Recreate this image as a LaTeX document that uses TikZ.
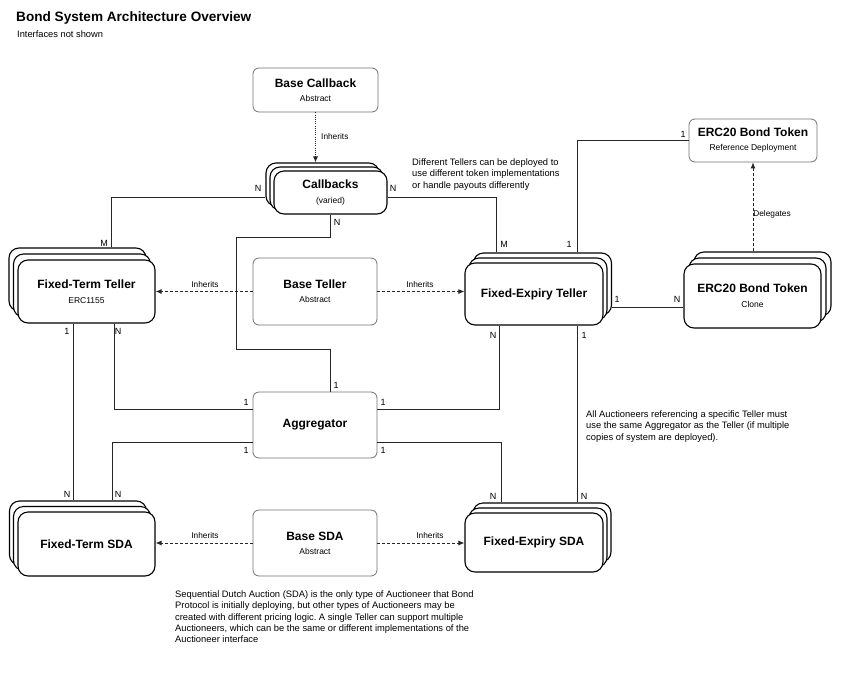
\documentclass[tikz,border=0pt]{standalone}
\usepackage{fontspec}
\setmainfont{Liberation Sans}
\usetikzlibrary{arrows.meta,calc}
\frenchspacing
\newcommand\boxhead[1]{{\fontsize{12}{15}\selectfont\bfseries #1}}
\tikzset{
  basebox/.style={draw=black!55, line width=0.8pt, rounded corners=6pt, fill=white, inner sep=0pt, align=center, font=\fontsize{8.5}{14}\selectfont, minimum width=124pt},
  stackbox/.style={draw=black, line width=1.1pt, rounded corners=10pt, fill=white, inner sep=0pt, align=center, font=\fontsize{8.5}{15}\selectfont},
  conn/.style={draw=black!85, line width=0.9pt},
  inh/.style={conn, dash pattern=on 3pt off 2pt, -{Latex[length=6pt,width=5pt]}},
  dotarrow/.style={conn, dash pattern=on 1pt off 1.2pt, -{Latex[length=6pt,width=5pt]}},
  lbl/.style={font=\fontsize{9}{11}\selectfont, inner sep=0pt},
  smalltxt/.style={font=\fontsize{8.3}{10}\selectfont, inner sep=0pt},
  para/.style={font=\fontsize{9.35}{11.3}\selectfont, align=left, inner sep=0pt, anchor=north west},
}
\begin{document}
\begin{tikzpicture}[x=1pt,y=-1pt]
\useasboundingbox (0,0) rectangle (862,683);

% titles
\node[anchor=north west, inner sep=0pt, font=\fontsize{13.6}{16}\selectfont\bfseries] (title) at (16,11) {Bond System Architecture Overview};
\node[anchor=north west, inner sep=0pt, font=\fontsize{9.3}{11}\selectfont] (subtitle) at (17,30.5) {Interfaces not shown};

% Base Callback
\node[basebox, minimum width=125pt, minimum height=44pt] (bcb) at (315.5,90) {\boxhead{Base Callback}\\Abstract};

% Callbacks stack
\node[stackbox, minimum width=113pt, minimum height=43pt] (cb3) at (322.5,184.5) {};
\node[stackbox, minimum width=113pt, minimum height=43pt] (cb2) at (326.5,188.5) {};
\node[stackbox, minimum width=113pt, minimum height=43pt] (cb) at (330.5,192.5) {\boxhead{Callbacks}\\(varied)};

% Fixed-Term Teller stack
\node[stackbox, minimum width=137pt, minimum height=63pt] (ftt3) at (77.5,279.5) {};
\node[stackbox, minimum width=137pt, minimum height=63pt] (ftt2) at (82,285.5) {};
\node[stackbox, minimum width=137pt, minimum height=63pt] (ftt) at (86.5,291.5) {\boxhead{Fixed-Term Teller}\\ERC1155};

% Base Teller
\node[basebox, minimum height=67pt] (bt) at (315,291.5) {\boxhead{Base Teller}\\Abstract};

% Aggregator
\node[basebox, minimum height=66pt] (agg) at (315,425) {\boxhead{Aggregator}};

% Fixed-Expiry Teller stack
\node[stackbox, minimum width=138pt, minimum height=62pt] (fet3) at (542.5,284) {};
\node[stackbox, minimum width=138pt, minimum height=62pt] (fet2) at (538,289) {};
\node[stackbox, minimum width=138pt, minimum height=62pt] (fet) at (534,294) {\boxhead{Fixed-Expiry Teller}};

% ERC20 reference
\node[basebox, minimum width=128pt, minimum height=43pt] (erc) at (753,140.5) {\boxhead{ERC20 Bond Token}\\Reference Deployment};

% ERC20 clone stack
\node[stackbox, minimum width=137pt, minimum height=64pt] (clone3) at (762.5,284) {};
\node[stackbox, minimum width=137pt, minimum height=64pt] (clone2) at (757.5,290) {};
\node[stackbox, minimum width=137pt, minimum height=64pt] (clone) at (752.5,296) {\boxhead{ERC20 Bond Token}\\Clone};

% Fixed-Term SDA stack
\node[stackbox, minimum width=137pt, minimum height=64pt] (fts3) at (78,533) {};
\node[stackbox, minimum width=137pt, minimum height=64pt] (fts2) at (82,538.5) {};
\node[stackbox, minimum width=137pt, minimum height=64pt] (fts) at (86.5,544) {\boxhead{Fixed-Term SDA}};

% Base SDA
\node[basebox, minimum height=66pt] (bsda) at (315,543) {\boxhead{Base SDA}\\Abstract};

% Fixed-Expiry SDA stack
\node[stackbox, minimum width=138pt, minimum height=59pt] (fes3) at (542,532.5) {};
\node[stackbox, minimum width=138pt, minimum height=59pt] (fes2) at (538,537.5) {};
\node[stackbox, minimum width=138pt, minimum height=59pt] (fes) at (534,542.5) {\boxhead{Fixed-Expiry SDA}};

% inheritance / delegation
\draw[dotarrow] (bcb.south) -- (bcb.south |- cb3.north);
\node[smalltxt, anchor=west] (inh1) at (321,137) {Inherits};
\draw[inh] (bt.west) -- (bt.west -| ftt.east);
\node[smalltxt] (inh2) at (205,285) {Inherits};
\draw[inh] (bt.east) -- (bt.east -| fet.west);
\node[smalltxt] (inh3) at (420,285) {Inherits};
\draw[inh] (bsda.west) -- (bsda.west -| fts.east);
\node[smalltxt] (inh4) at (205,536) {Inherits};
\draw[inh] (bsda.east) -- (bsda.east -| fes.west);
\node[smalltxt] (inh5) at (430,536) {Inherits};
\draw[inh] (erc.south |- clone3.north) -- (erc.south);
\node[smalltxt] (dlg) at (772,214) {Delegates};

% associations
\draw[conn] (cb3.west |- 0,197) -| (111,0 |- ftt3.north);
\draw[conn] (cb.east |- 0,197) -| (496,0 |- fet3.north);
\draw[conn] (cb.south) -- (cb.south |- 0,237) -- (236,237) -- (236,349) -- (cb.south |- 0,349) -- (cb.south |- agg.north);
\draw[conn] (73,0 |- ftt.south) -- (73,0 |- fts3.north);
\draw[conn] (114,0 |- ftt.south) |- (agg.west |- 0,409);
\draw[conn] (agg.west |- 0,442) -| (112,0 |- fts3.north);
\draw[conn] (agg.east |- 0,409) -| (499,0 |- fet.south);
\draw[conn] (agg.east |- 0,442) -| (501,0 |- fes3.north);
\draw[conn] (577,0 |- fet3.north) |- (erc.west);
\draw[conn] (577,0 |- fet.south) -- (577,0 |- fes3.north);
\draw[conn] (fet3.east |- 0,307) -- (clone.west |- 0,307);

% cardinalities
\node[lbl] (c1) at (258,188) {N};
\node[lbl] (c2) at (393,188) {N};
\node[lbl] (c3) at (104,243) {M};
\node[lbl] (c4) at (504,244) {M};
\node[lbl] (c5) at (337,222) {N};
\node[lbl] (c6) at (336,385) {1};
\node[lbl] (c7) at (67,331) {1};
\node[lbl] (c8) at (118,331) {N};
\node[lbl] (c9) at (67,494) {N};
\node[lbl] (c10) at (118,494) {N};
\node[lbl] (c11) at (246,402) {1};
\node[lbl] (c12) at (246,450) {1};
\node[lbl] (c13) at (383,402) {1};
\node[lbl] (c14) at (383,450) {1};
\node[lbl] (c15) at (493,335) {N};
\node[lbl] (c16) at (584,335) {1};
\node[lbl] (c17) at (493,496) {N};
\node[lbl] (c18) at (584,496) {N};
\node[lbl] (c19) at (569,244) {1};
\node[lbl] (c20) at (683,134) {1};
\node[lbl] (c21) at (617,299) {1};
\node[lbl] (c22) at (677,299) {N};

% notes
\node[para] (note1) at (412,158.5) {Different Tellers can be deployed to\\use different token implementations\\or handle payouts differently};
\node[para] (note2) at (586,410.5) {All Auctioneers referencing a specific Teller must\\use the same Aggregator as the Teller (if multiple\\copies of system are deployed).};
\node[para] (note3) at (175,590.5) {Sequential Dutch Auction (SDA) is the only type of Auctioneer that Bond\\Protocol is initially deploying, but other types of Auctioneers may be\\created with different pricing logic. A single Teller can support multiple\\Auctioneers, which can be the same or different implementations of the\\Auctioneer interface};
\end{tikzpicture}
\end{document}
